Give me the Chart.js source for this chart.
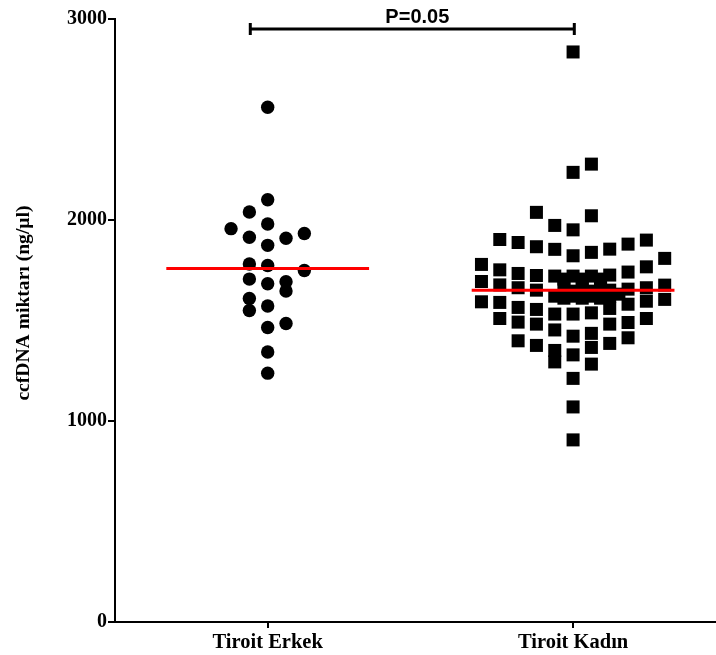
<!DOCTYPE html>
<html>
<head>
<meta charset="utf-8">
<script src="https://cdn.jsdelivr.net/npm/chart.js@4/dist/chart.umd.min.js"></script>
<style>
  html, body { margin: 0; padding: 0; background: #ffffff; }
  #wrap { width: 716px; height: 655px; position: relative; }
</style>
</head>
<body>
<div id="wrap"><canvas id="chart"></canvas></div>
<script>
// Groups on the x axis
const categories = ['Tiroit Erkek', 'Tiroit Kadın'];
const yTicks = [0, 1000, 2000, 3000];
const yTitle = 'ccfDNA miktarı (ng/µl)';

// Tiroit Erkek: column slot of each dot in the scatter, and its ccfDNA value (ng/µl)
const erkekSlots  = [0, 0, -1, 0, -2, 2, -1, 1, 0, -1, 0, 2, -1, 0, 1, 1, -1, -1, 0, 0, 1, 0, 0];
const erkekValues = [2561, 2101, 2040, 1980, 1957, 1933, 1914, 1909, 1874, 1781, 1774, 1749,
                     1706, 1683, 1693, 1647, 1610, 1550, 1572, 1465, 1485, 1343, 1238];

// Tiroit Kadın: column slot and ccfDNA value (ng/µl)
const kadinSlots = [
  -5, -5, -5,
  -4, -4, -4, -4, -4,
  -3, -3, -3, -3, -3, -3,
  -2, -2, -2, -2, -2, -2, -2,
  -1, -1, -1, -1, -1, -1, -1,
   0,  0,  0,  0,  0,  0,  0,  0,  0,  0,
   1,  1,  1,  1,  1,  1,  1,
   2,  2,  2,  2,  2,  2,
   3,  3,  3,  3,  3,  3,
   4,  4,  4,  4,  4,
   5,  5,  5,
  -0.5, 0, 0.5, 1, 1.5, -0.5, 0.5, 1.5, 0, 1, -1, -0.5, 0, 0.5, 1, 1.5, 2, 2.5
];
const kadinValues = [
  1779, 1694, 1593,
  1903, 1752, 1677, 1590, 1510,
  1888, 1734, 1663, 1565, 1492, 1399,
  2038, 1867, 1724, 1651, 1555, 1482, 1376,
  1973, 1854, 1721, 1532, 1453, 1351, 1294,
  2836, 2237, 1951, 1822, 1532, 1422, 1329, 1212, 1070, 906,
  2278, 2021, 1839, 1538, 1436, 1366, 1283,
  1855, 1726, 1651, 1560, 1482, 1386,
  1880, 1741, 1656, 1581, 1490, 1414,
  1900, 1767, 1663, 1596, 1510,
  1809, 1676, 1605,
  1706, 1721, 1706, 1721, 1706, 1661, 1661, 1661, 1646, 1646, 1621, 1611, 1621, 1611, 1621, 1611, 1621, 1631
];

// Group means (red bars)
const means = [1759, 1650];

// Comparison bracket between the groups
const pLabel = 'P=0.05';
const bracketX = [0.943, 2.004];
const bracketY = 2950;

// ---- drawing ----
const SLOT = 0.06;        // horizontal spacing of scatter columns, in x units
const MEAN_HALF = 0.332;  // half width of the mean bar, in x units

function toPoints(center, slots, values) {
  return values.map((v, i) => ({ x: center + slots[i] * SLOT, y: v }));
}

const meanSets = means.map((m, i) => ({
  type: 'line',
  data: [{ x: i + 1 - MEAN_HALF, y: m }, { x: i + 1 + MEAN_HALF, y: m }],
  borderColor: '#ff0000',
  borderWidth: 3,
  pointRadius: 0,
  fill: false,
  order: 0,
  clip: false
}));

const serif = "'Liberation Serif', 'Times New Roman', serif";
const sans = "'Liberation Sans', Arial, sans-serif";

const bracketPlugin = {
  id: 'bracket',
  afterDatasetsDraw(chart) {
    const { ctx, scales: { x, y } } = chart;
    const x0 = x.getPixelForValue(bracketX[0]);
    const x1 = x.getPixelForValue(bracketX[1]);
    const yy = y.getPixelForValue(bracketY);
    ctx.save();
    ctx.strokeStyle = '#000';
    ctx.lineWidth = 3;
    ctx.beginPath();
    ctx.moveTo(x0, yy); ctx.lineTo(x1, yy);
    ctx.moveTo(x0, yy - 6); ctx.lineTo(x0, yy + 6);
    ctx.moveTo(x1, yy - 6); ctx.lineTo(x1, yy + 6);
    ctx.stroke();
    ctx.fillStyle = '#000';
    ctx.font = 'bold 20px ' + sans;
    ctx.textAlign = 'center';
    ctx.textBaseline = 'alphabetic';
    ctx.fillText(pLabel, x.getPixelForValue(1.49), yy - 6);
    ctx.restore();
  }
};

const yTitlePlugin = {
  id: 'yTitle',
  afterDraw(chart) {
    const { ctx } = chart;
    ctx.save();
    ctx.translate(24, 303);
    ctx.rotate(-Math.PI / 2);
    ctx.fillStyle = '#000';
    ctx.font = 'bold 19.6px ' + serif;
    ctx.textAlign = 'center';
    ctx.textBaseline = 'middle';
    ctx.fillText(yTitle, 0, 0);
    ctx.restore();
  }
};

new Chart(document.getElementById('chart'), {
  type: 'scatter',
  data: {
    datasets: [
      ...meanSets,
      {
        label: categories[0],
        data: toPoints(1, erkekSlots, erkekValues),
        pointStyle: 'circle',
        pointRadius: 6.7,
        pointHoverRadius: 6.7,
        backgroundColor: '#000',
        borderColor: '#000',
        borderWidth: 0,
        order: 1,
        clip: false
      },
      {
        label: categories[1],
        data: toPoints(2, kadinSlots, kadinValues),
        pointStyle: 'rect',
        pointRadius: 9.2,
        pointHoverRadius: 9.2,
        backgroundColor: '#000',
        borderColor: '#000',
        borderWidth: 0,
        order: 1,
        clip: false
      }
    ]
  },
  options: {
    responsive: true,
    maintainAspectRatio: false,
    animation: false,
    events: [],
    layout: { autoPadding: false, padding: { top: 19, right: 0, bottom: 0, left: 0 } },
    plugins: { legend: { display: false }, tooltip: { enabled: false } },
    scales: {
      x: {
        type: 'linear',
        min: 0.5,
        max: 2.468,
        afterBuildTicks(scale) { scale.ticks = [{ value: 1 }, { value: 2 }]; },
        afterFit(scale) { scale.height = 33; },
        ticks: {
          autoSkip: false,
          maxRotation: 0,
          padding: 2,
          color: '#000',
          font: { family: serif, size: 20.5, weight: 'bold' },
          callback: (v) => categories[Math.round(v) - 1]
        },
        grid: { drawOnChartArea: false, drawTicks: true, tickLength: 6, color: '#000', lineWidth: 2 },
        border: { display: true, color: '#000', width: 2 }
      },
      y: {
        min: 0,
        max: 3000,
        afterBuildTicks(scale) { scale.ticks = yTicks.map(v => ({ value: v })); },
        afterFit(scale) { scale.width = 115; },
        ticks: {
          padding: 1,
          color: '#000',
          font: { family: serif, size: 20, weight: 'bold' },
          callback: (v) => String(v)
        },
        grid: { drawOnChartArea: false, drawTicks: true, tickLength: 7, color: '#000', lineWidth: 2 },
        border: { display: true, color: '#000', width: 2 }
      }
    }
  },
  plugins: [bracketPlugin, yTitlePlugin]
});
</script>
</body>
</html>
